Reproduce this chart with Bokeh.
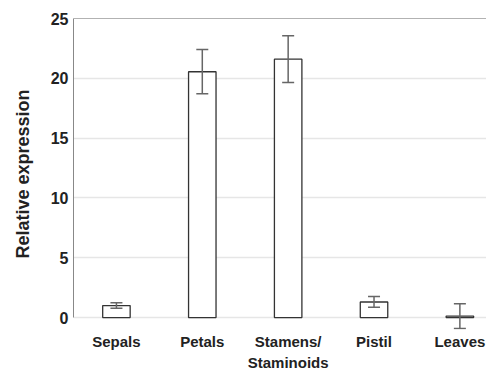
from bokeh.plotting import figure
from bokeh.models import ColumnDataSource, Whisker, TeeHead, FixedTicker, Span
from bokeh.embed import file_html
from bokeh.resources import INLINE

categories = ["Sepals", "Petals", "Stamens/\nStaminoids", "Pistil", "Leaves"]
values = [1.0, 20.55, 21.6, 1.3, 0.12]
errors = [0.23, 1.85, 1.95, 0.45, 1.04]
y_ticks = [0, 5, 10, 15, 20, 25]

xs = list(range(len(categories)))
src = ColumnDataSource(dict(
    x=xs, top=values,
    upper=[v + e for v, e in zip(values, errors)],
    lower=[v - e for v, e in zip(values, errors)],
))

FONT = "Liberation Sans"

p = figure(frame_width=413, frame_height=311, x_range=(-0.5, 4.31), y_range=(-1.0, 25),
           output_backend="svg", toolbar_location=None,
           min_border_left=73, min_border_top=18, min_border_right=0, min_border_bottom=0)
p.outline_line_color = None
p.background_fill_color = "white"

p.vbar(x="x", top="top", width=0.32, bottom=0, source=src,
       fill_color="white", line_color="#333333", line_width=1.3)

w = Whisker(base="x", upper="upper", lower="lower", source=src, level="overlay",
            line_color="#666666", line_width=1.5,
            upper_head=TeeHead(size=12, line_color="#666666", line_width=1.5),
            lower_head=TeeHead(size=12, line_color="#666666", line_width=1.5))
p.add_layout(w)

p.add_layout(Span(location=25, dimension="width", line_color="#666666", line_width=1.2))

p.xgrid.grid_line_color = None
p.ygrid.ticker = FixedTicker(ticks=y_ticks[:-1])
p.ygrid.grid_line_color = "#e6e6e6"
p.ygrid.grid_line_width = 1.5

p.yaxis.ticker = FixedTicker(ticks=y_ticks)
p.yaxis.bounds = (0, 25)
p.yaxis.axis_line_color = "#888888"
p.yaxis.axis_line_width = 1
p.yaxis.major_tick_line_color = None
p.yaxis.minor_tick_line_color = None
p.yaxis.major_tick_out = 0
p.yaxis.major_tick_in = 0
p.yaxis.minor_tick_out = 0
p.yaxis.major_label_standoff = 5
p.yaxis.major_label_text_font = FONT
p.yaxis.major_label_text_font_style = "bold"
p.yaxis.major_label_text_font_size = "16px"
p.yaxis.major_label_text_color = "#222222"
p.yaxis.axis_label = "Relative expression"
p.yaxis.axis_label_text_font = FONT
p.yaxis.axis_label_text_font_style = "bold"
p.yaxis.axis_label_text_font_size = "18px"
p.yaxis.axis_label_text_color = "#222222"
p.yaxis.axis_label_standoff = 15

p.xaxis.ticker = FixedTicker(ticks=xs)
p.xaxis.major_label_overrides = {i: c for i, c in enumerate(categories)}
p.xaxis.axis_line_color = None
p.xaxis.major_tick_line_color = None
p.xaxis.minor_tick_line_color = None
p.xaxis.major_label_standoff = -3
p.xaxis.major_label_text_font = FONT
p.xaxis.major_label_text_font_style = "bold"
p.xaxis.major_label_text_font_size = "15px"
p.xaxis.major_label_text_color = "#222222"
p.xaxis.major_label_text_line_height = 1.28

open("out.html", "w").write(file_html(p, INLINE))
